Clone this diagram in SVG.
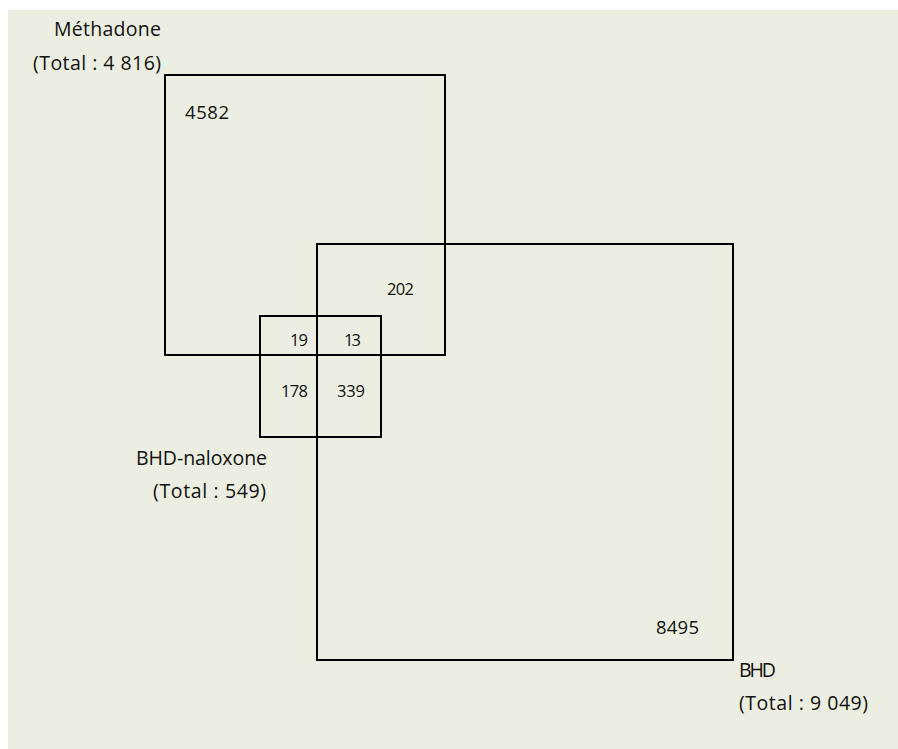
<svg xmlns="http://www.w3.org/2000/svg" width="898" height="749" viewBox="0 0 898 749">
<style>
.box{fill:none;stroke:#000;stroke-width:2}
text{font-family:"Open Sans","DejaVu Sans",sans-serif;fill:#111}
.lab{font-size:19.5px}
.num{font-size:16.5px}
.big{font-size:18.5px}
</style>
<rect x="8" y="10" width="890" height="739" fill="#EBEEE0"/>
<g id="methadone">
<rect class="box" x="165" y="75" width="280" height="280"/>
<text class="lab" x="54" y="36" textLength="107">Méthadone</text>
<text class="lab" x="33" y="70" textLength="128">(Total : 4 816)</text>
<text class="big" x="185" y="119" textLength="44">4582</text>
</g>
<g id="bhd">
<rect class="box" x="317" y="244" width="416" height="416"/>
<text class="lab" x="739" y="677" textLength="37">BHD</text>
<text class="lab" x="739" y="710" textLength="129">(Total : 9 049)</text>
<text class="big" x="656" y="634" textLength="43">8495</text>
<text class="num" x="387" y="295" textLength="27">202</text>
</g>
<g id="bhd-naloxone">
<rect class="box" x="260" y="316" width="121" height="121"/>
<text class="lab" x="136" y="465" textLength="131">BHD-naloxone</text>
<text class="lab" x="153" y="498" textLength="113">(Total : 549)</text>
<text class="num" x="290" y="346" textLength="18">19</text>
<text class="num" x="344" y="346" textLength="17">13</text>
<text class="num" x="281" y="397" textLength="27">178</text>
<text class="num" x="337" y="397" textLength="28">339</text>
</g>
</svg>
